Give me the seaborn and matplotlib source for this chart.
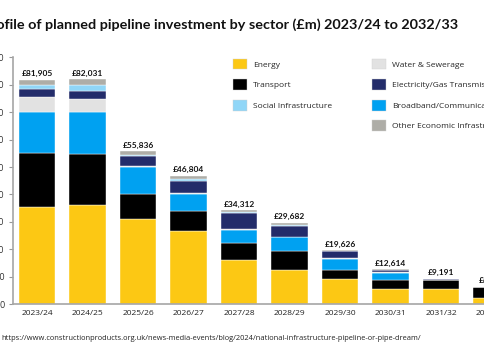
import matplotlib
matplotlib.use("Agg")
import matplotlib.pyplot as plt
from matplotlib.patches import Patch
from matplotlib.ticker import FuncFormatter
import seaborn as sns
import numpy as np

# data (£m)
years = ['2023/24', '2024/25', '2025/26', '2026/27', '2027/28',
         '2028/29', '2029/30', '2030/31', '2031/32', '2032/33']
energy = [35300, 36000, 30900, 26700, 15900, 12300, 9000, 5400, 5400, 2300]
transport = [19900, 18900, 9100, 7300, 6300, 6900, 3300, 3200, 3400, 3900]
broadband = [15000, 15300, 9900, 6100, 5000, 5200, 4300, 2900, 0, 0]
water = [5500, 4600, 500, 300, 200, 100, 100, 50, 0, 0]
elec_gas = [2700, 3000, 3800, 4500, 5800, 4100, 2500, 800, 250, 0]
social = [1600, 2100, 300, 600, 300, 200, 100, 0, 0, 0]
other = [1905, 2131, 1336, 1304, 812, 882, 326, 264, 141, 100]

# stacking order bottom -> top
layers = [
    ('Energy', energy, '#FCC814'),
    ('Transport', transport, '#000000'),
    ('Broadband/Communications', broadband, '#00A1F1'),
    ('Water & Sewerage', water, '#E2E2E2'),
    ('Electricity/Gas Transmission', elec_gas, '#232C6A'),
    ('Social Infrastructure', social, '#90D6F7'),
    ('Other Economic Infrastructure', other, '#AEADA7'),
]
colors = {name: c for name, _, c in layers}

sns.set_style('white')
plt.rcParams['font.family'] = ['Open Sans', 'DejaVu Sans']

W, H = 485, 360
fig = plt.figure(figsize=(W / 100, H / 100), dpi=100)
ax = fig.add_axes([13.3 / W, 56 / H, 503.5 / W, 246.5 / H])

bottom = np.zeros(len(years))
for name, vals, c in layers:
    sns.barplot(x=years, y=vals, bottom=bottom, color=c, saturation=1,
                width=0.72, edgecolor='white', linewidth=0.3, ax=ax)
    bottom = bottom + np.array(vals)

totals = bottom.astype(int)
for i, t in enumerate(totals):
    ax.text(i, t + 900, '£{:,}'.format(t), ha='center', va='bottom',
            fontsize=6.0, fontweight='bold', family=['Lato', 'DejaVu Sans'],
            color='#111111')

ax.set_xlim(-0.47, 9.5)
ax.set_ylim(0, 90000)
ax.set_yticks(np.arange(0, 90001, 10000))
ax.yaxis.set_major_formatter(FuncFormatter(lambda v, p: '{:,}'.format(int(v))))
ax.tick_params(axis='y', left=True, length=3, width=0.8, color='#999999',
               pad=3.4, labelsize=6.5, labelcolor='#333333')
ax.tick_params(axis='x', bottom=False, length=0, pad=4, labelsize=6.0,
               labelcolor='#222222')
ax.set_xlabel('')
ax.set_ylabel('')
for s in ['top', 'right']:
    ax.spines[s].set_visible(False)
for s in ['left', 'bottom']:
    ax.spines[s].set_color('#a6a6a6')
    ax.spines[s].set_linewidth(1.2)

# legend in two hand-placed columns
col1 = ['Energy', 'Transport', 'Social Infrastructure']
col2 = ['Water & Sewerage', 'Electricity/Gas Transmission',
        'Broadband/Communications', 'Other Economic Infrastructure']
fs = 6.0
leg_kw = dict(loc='upper left', frameon=False, fontsize=fs, borderpad=0,
              borderaxespad=0, handlelength=1.7, handleheight=1.65,
              labelspacing=1.15, handletextpad=0.75,
              bbox_transform=fig.transFigure)
h1 = [Patch(facecolor=colors[n], edgecolor='#d0d0d0', linewidth=0.3, label=n) for n in col1]
h2 = [Patch(facecolor=colors[n], edgecolor='#d0d0d0', linewidth=0.3, label=n) for n in col2]
leg1 = ax.legend(handles=h1, bbox_to_anchor=(232.7 / W, 1 - 58.5 / H), **leg_kw)
ax.add_artist(leg1)
ax.legend(handles=h2, bbox_to_anchor=(372 / W, 1 - 58.5 / H), **leg_kw)

fig.text(458 / W, 1 - 25 / H,
         'Profile of planned pipeline investment by sector (£m) 2023/24 to 2032/33',
         ha='right', va='center', fontsize=10.35, fontweight='bold',
         family=['Lato', 'DejaVu Sans'], color='#111111')
fig.text(1 / W, 1 - 338 / H,
         'https://www.constructionproducts.org.uk/news-media-events/blog/2024/'
         'national-infrastructure-pipeline-or-pipe-dream/',
         ha='left', va='center', fontsize=5.4, color='#222222')

fig.savefig('out.png', dpi=100)
